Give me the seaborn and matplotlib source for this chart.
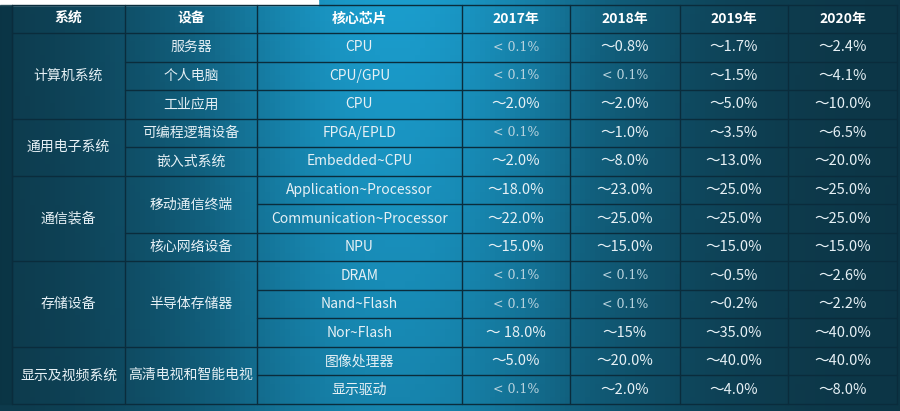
import numpy as np
import pandas as pd
import seaborn as sns
import matplotlib.pyplot as plt
from matplotlib.colors import LinearSegmentedColormap

sns.set_theme(style="white")
plt.rcParams['font.family'] = ['Noto Sans CJK SC', 'DejaVu Sans']

header = ['系统', '设备', '核心芯片', '2017年', '2018年', '2019年', '2020年']
systems = [('计算机系统', 0, 3), ('通用电子系统', 3, 5), ('通信装备', 5, 8),
           ('存储设备', 8, 11), ('显示及视频系统', 11, 13)]
devices = [('服务器', 0, 1), ('个人电脑', 1, 2), ('工业应用', 2, 3),
           ('可编程逻辑设备', 3, 4), ('嵌入式系统', 4, 5), ('移动通信终端', 5, 7),
           ('核心网络设备', 7, 8), ('半导体存储器', 8, 11), ('高清电视和智能电视', 11, 13)]
chips = ['CPU', 'CPU/GPU', 'CPU', 'FPGA/EPLD', 'Embedded~CPU', 'Application~Processor',
         'Communication~Processor', 'NPU', 'DRAM', 'Nand~Flash', 'Nor~Flash', '图像处理器', '显示驱动']
y2017 = ['< 0.1%', '< 0.1%', '～2.0%', '< 0.1%', '～2.0%', '～18.0%', '～22.0%', '～15.0%',
         '< 0.1%', '< 0.1%', '～ 18.0%', '～5.0%', '< 0.1%']
y2018 = ['～0.8%', '< 0.1%', '～2.0%', '～1.0%', '～8.0%', '～23.0%', '～25.0%', '～15.0%',
         '< 0.1%', '< 0.1%', '～15%', '～20.0%', '～2.0%']
y2019 = ['～1.7%', '～1.5%', '～5.0%', '～3.5%', '～13.0%', '～25.0%', '～25.0%', '～15.0%',
         '～0.5%', '～0.2%', '～35.0%', '～40.0%', '～4.0%']
y2020 = ['～2.4%', '～4.1%', '～10.0%', '～6.5%', '～20.0%', '～25.0%', '～25.0%', '～15.0%',
         '～2.6%', '～2.2%', '～40.0%', '～40.0%', '～8.0%']

W, H = 900, 411
xb = [12, 125, 257, 462, 570, 680, 788, 897]
y_top, y_head = 5, 33
rh = (404 - y_head) / 13

fig = plt.figure(figsize=(9, 4.11), dpi=100)
ax = fig.add_axes([0, 0, 1, 1])

# background gradient (dark left, bright cyan centre, dark right)
xs = np.linspace(0, 1, 180)
bright = np.exp(-((xs - 0.44) / 0.28) ** 2)
vert = np.linspace(1.0, 0.8, 60)[:, None]
grad = pd.DataFrame(bright[None, :] * vert)
cmap = LinearSegmentedColormap.from_list('bg', ['#0c3444', '#11607e', '#1a9ccc'])
sns.heatmap(grad, ax=ax, cmap=cmap, cbar=False, xticklabels=False, yticklabels=False,
            vmin=0, vmax=1)
ax.set_xlim(0, 180)
ax.set_ylim(60, 0)
ax.axis('off')

ax2 = fig.add_axes([0, 0, 1, 1])
ax2.set_xlim(0, W)
ax2.set_ylim(H, 0)
ax2.axis('off')
ax2.patch.set_alpha(0)
ax2.fill_between([0, 318], 0, 5, color='white')
ax2.fill_between([0, 12], 5, 404, color='#0a3444', alpha=0.8)

lc = '#0a2c3c'
rows = lambda i: y_head + i * rh
ax2.plot([xb[0], xb[-1]], [y_top, y_top], color=lc, lw=1)
ax2.plot([xb[0], xb[-1]], [y_head, y_head], color=lc, lw=1)
for i in range(1, 14):
    yy = rows(i)
    starts = xb[0]
    if i < 13:
        if not any(i == e for _, s, e in systems):
            starts = xb[1]
        if not any(i == e for _, s, e in devices):
            starts = xb[2]
    ax2.plot([starts, xb[-1]], [yy, yy], color=lc, lw=1)
for x in xb:
    ax2.plot([x, x], [y_top, rows(13)], color=lc, lw=1)

tc = '#e6f0f5'
for j, h in enumerate(header):
    ax2.text((xb[j] + xb[j + 1]) / 2, (y_top + y_head) / 2, h, color='white',
             fontsize=10, fontweight='bold', ha='center', va='center')
for name, s, e in systems:
    ax2.text((xb[0] + xb[1]) / 2, (rows(s) + rows(e)) / 2, name, color=tc,
             fontsize=10, ha='center', va='center')
for name, s, e in devices:
    ax2.text((xb[1] + xb[2]) / 2, (rows(s) + rows(e)) / 2, name, color=tc,
             fontsize=10, ha='center', va='center')
for i, c in enumerate(chips):
    ax2.text((xb[2] + xb[3]) / 2, (rows(i) + rows(i + 1)) / 2, c, color=tc,
             fontsize=10, ha='center', va='center')
for j, col in enumerate([y2017, y2018, y2019, y2020]):
    for i, v in enumerate(col):
        light = '<' in v
        ax2.text((xb[3 + j] + xb[4 + j]) / 2, (rows(i) + rows(i + 1)) / 2, v,
                 color='#b9d3de' if light else tc, fontsize=9 if light else 10.5,
                 family=['DejaVu Serif'] if light else None,
                 ha='center', va='center')

fig.savefig('out.png', dpi=100)
